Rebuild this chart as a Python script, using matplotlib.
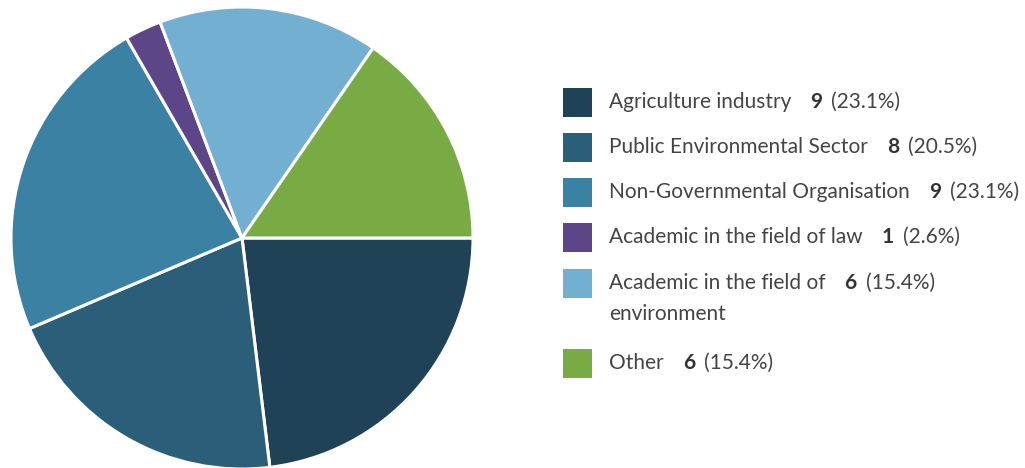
import matplotlib
matplotlib.use("Agg")
import matplotlib.pyplot as plt
from matplotlib.patches import Rectangle

categories = [
    "Agriculture industry",
    "Public Environmental Sector",
    "Non-Governmental Organisation",
    "Academic in the field of law",
    "Academic in the field of\nenvironment",
    "Other",
]
counts = [9, 8, 9, 1, 6, 6]
percents = ["23.1%", "20.5%", "23.1%", "2.6%", "15.4%", "15.4%"]
colors = ["#1f4257", "#2b5e79", "#3a81a3", "#5c4688", "#72afd0", "#79ab45"]

plt.rcParams["font.family"] = ["Lato", "DejaVu Sans"]

W, H = 1025, 468
fig = plt.figure(figsize=(W / 100, H / 100), dpi=100)

# pie: centre (242, 238) px, radius 231 px
cx, cy, r = 242, 238, 231
ax = fig.add_axes([(cx - r) / W, (H - cy - r) / H, 2 * r / W, 2 * r / H])
ax.pie(counts, colors=colors, startangle=0, counterclock=False,
       wedgeprops=dict(edgecolor="white", linewidth=2.2), radius=1)
ax.set_xlim(-1, 1)
ax.set_ylim(-1, 1)
ax.set_aspect("equal")
ax.axis("off")

# legend drawn in pixel coordinates
text_color = "#444444"
row_y = [102, 147, 192, 237, 283, 363]
sq = 29
sq_x = 563
tx = 609
fs = 15
line_gap = 31

renderer = fig.canvas.get_renderer()

def px(x, y):
    return x / W, 1 - y / H

for i, (lab, n, p, c) in enumerate(zip(categories, counts, percents, colors)):
    y = row_y[i]
    fig.patches.append(Rectangle(px(sq_x, y + sq / 2), sq / W, sq / H,
                                 transform=fig.transFigure, facecolor=c,
                                 edgecolor="none"))
    lines = lab.split("\n")
    t = fig.text(*px(tx, y), lines[0], fontsize=fs, color=text_color,
                 va="center", ha="left")
    for k, extra in enumerate(lines[1:], start=1):
        fig.text(*px(tx, y + k * line_gap), extra, fontsize=fs,
                 color=text_color, va="center", ha="left")
    bb = t.get_window_extent(renderer)
    x_num = bb.x1 + 19
    tn = fig.text(x_num / W, 1 - y / H, str(n), fontsize=fs,
                  color="#333333", fontweight="bold", va="center", ha="left")
    bb2 = tn.get_window_extent(renderer)
    fig.text((bb2.x1 + 9) / W, 1 - y / H, f"({p})", fontsize=fs,
             color=text_color, va="center", ha="left")

fig.savefig("out.png", dpi=100, facecolor="white")
